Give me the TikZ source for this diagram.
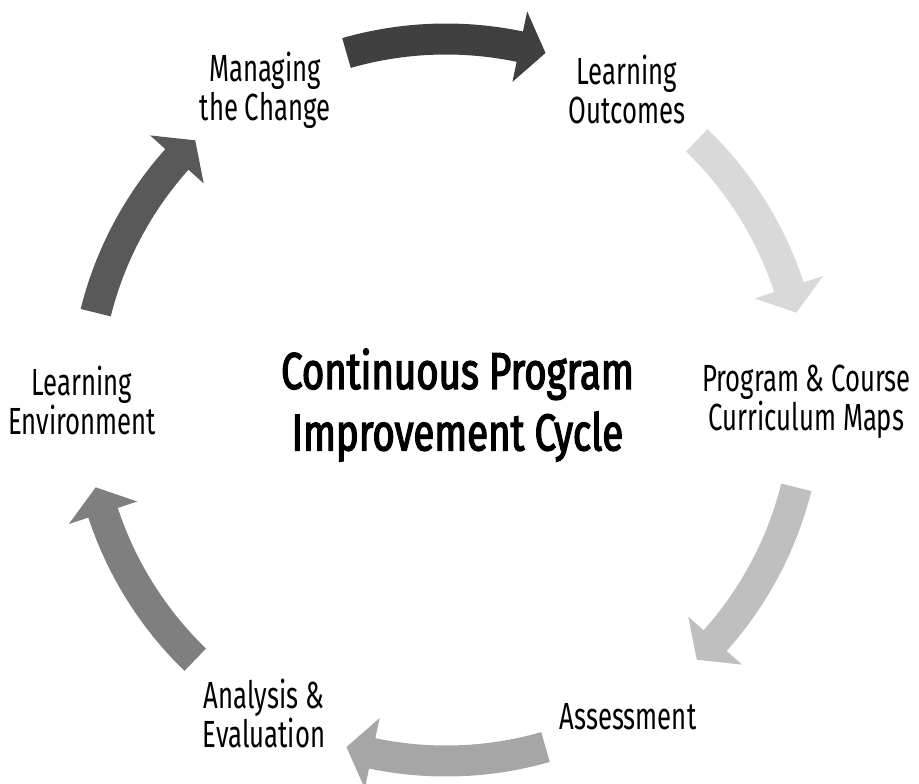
\documentclass[tikz,border=0pt]{standalone}
\usepackage{fontspec}
\setmainfont{Fira Sans}[FakeStretch=0.68]
\newfontfamily\titlefont{Fira Sans}[FakeStretch=0.74, FakeBold=2.5]
\usepackage{xcolor}
\usepackage{tikz}
\usetikzlibrary{positioning, calc}

\definecolor{shadeA}{HTML}{404040}
\definecolor{shadeB}{HTML}{D9D9D9}
\definecolor{shadeC}{HTML}{BFBFBF}
\definecolor{shadeD}{HTML}{A6A6A6}
\definecolor{shadeE}{HTML}{7F7F7F}
\definecolor{shadeF}{HTML}{595959}

% curved block arrow on the cycle, #1 = middle angle, #2 = colour
\newcommand{\cyclearrow}[2]{%
  \fill[#2] (#1+16:7.53) arc[start angle=#1+16, end angle=#1-11.8, radius=7.53]
    -- (#1-11.8:7.94) -- (#1-16:7.22) -- (#1-11.8:6.5) -- (#1-11.8:6.91)
    arc[start angle=#1-11.8, end angle=#1+16, radius=6.91] -- cycle;}

\begin{document}
\begin{tikzpicture}[
  stage/.style = {align=center, font=\fontsize{21.5}{22.2}\selectfont},
  title/.style = {align=center, font=\titlefont\fontsize{29.5}{35}\selectfont}
  ]
 \useasboundingbox (-8.92,-7.66) rectangle (9.46,8.0);
 % Centre title
 \node[title] (cycle) at (0.23,-0.1)
  {Continuous Program\\
  Improvement Cycle};
 % Stages round the cycle
 \node[stage] (outcomes) at (3.62,6.22) {Learning\\ Outcomes};
 \node[stage] (maps) at (7.21,-0.04) {Program \& Course\\ Curriculum Maps};
 \node[stage] (assessment) at (3.64,-6.34) {Assessment};
 \node[stage] (analysis) at (-3.64,-6.26) {Analysis \&\\ Evaluation};
 \node[stage] (environment) at (-7.28,0) {Learning\\ Environment};
 \node[stage] (change) at (-3.62,6.2) {Managing\\ the Change};
 % Arrows
 \cyclearrow{90}{shadeA}
 \cyclearrow{30}{shadeB}
 \cyclearrow{-30}{shadeC}
 \cyclearrow{-90}{shadeD}
 \cyclearrow{-150}{shadeE}
 \cyclearrow{150}{shadeF}
\end{tikzpicture}
\end{document}
